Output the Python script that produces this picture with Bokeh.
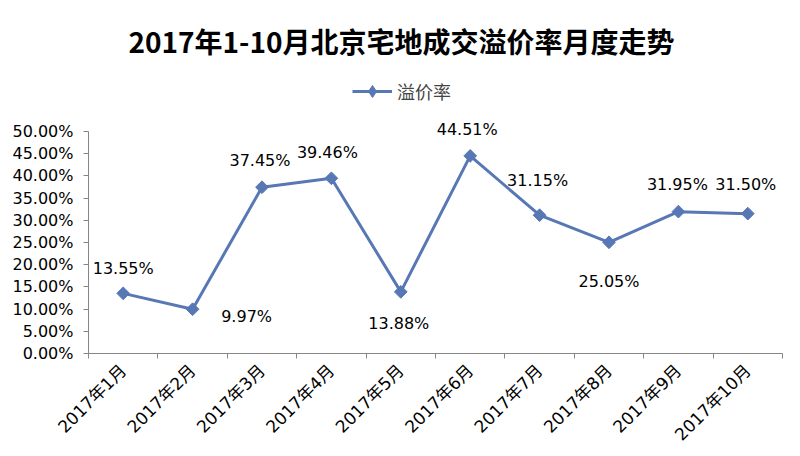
from bokeh.plotting import figure
from bokeh.models import (ColumnDataSource, Range1d, FixedTicker, Legend, LegendItem,
                          NumeralTickFormatter, Label)
from bokeh.core.properties import value
from bokeh.embed import file_html
from bokeh.resources import INLINE

months = ["2017年1月", "2017年2月", "2017年3月", "2017年4月", "2017年5月",
          "2017年6月", "2017年7月", "2017年8月", "2017年9月", "2017年10月"]
premium = [13.55, 9.97, 37.45, 39.46, 13.88, 44.51, 31.15, 25.05, 31.95, 31.50]
labels = ["13.55%", "9.97%", "37.45%", "39.46%", "13.88%",
          "44.51%", "31.15%", "25.05%", "31.95%", "31.50%"]
y_ticks = [0.0, 0.05, 0.10, 0.15, 0.20, 0.25, 0.30, 0.35, 0.40, 0.45, 0.50]
# label placement offsets (screen px) – styling only
label_dx = [0, 54, -2, -4, -2, -3, -2, 0, -1, -2]
label_dy = [-25, 7, -27, -26, 32, -26, -35, 39, -27, -29]

FONT = "'DejaVu Sans', 'Noto Sans CJK SC', sans-serif"
CJK = "'Noto Sans CJK SC', sans-serif"
BLUE = "#5877B5"
AXIS = "#868686"

# layout (screen px)
W, H = 800, 456
FRAME_L, FRAME_R = 88, 782
FRAME_T = 8
AXIS_Y0 = 353      # screen y of 0%
AXIS_Y50 = 131     # screen y of 50%
YMAX = 0.5
y_end = YMAX * (AXIS_Y0 - FRAME_T) / (AXIS_Y0 - AXIS_Y50)

xs = [i + 0.5 for i in range(len(months))]
ys = [v / 100 for v in premium]
src = ColumnDataSource(dict(x=xs, y=ys, lab=labels, dx=label_dx, dy=label_dy))

p = figure(width=W, height=H, output_backend="svg", toolbar_location=None,
           x_range=Range1d(0, len(months)), y_range=Range1d(0, y_end),
           min_border_left=FRAME_L, min_border_right=W - FRAME_R,
           min_border_top=FRAME_T, min_border_bottom=H - AXIS_Y0)
p.title.visible = False
p.outline_line_color = None
p.xgrid.visible = False
p.ygrid.visible = False
p.background_fill_color = "white"
p.border_fill_color = "white"

r_line = p.line("x", "y", source=src, line_color=BLUE, line_width=3)
r_pts = p.scatter("x", "y", source=src, marker="square", size=9, angle=0.785398,
                  fill_color=BLUE, line_color=BLUE, line_width=1)
p.text("x", "y", text="lab", source=src, x_offset="dx", y_offset="dy",
       text_align="center", text_baseline="middle", text_font=value(FONT),
       text_font_size="16px", text_color="#000000")

# legend key marker (legend glyphs ignore marker angle, so use a diamond key;
# its single NaN point is never drawn in the plot itself)
key_src = ColumnDataSource(dict(x=[float("nan")], y=[float("nan")]))
r_key = p.scatter("x", "y", source=key_src, marker="diamond", size=12,
                  fill_color=BLUE, line_color=BLUE)

# y axis
p.yaxis.ticker = FixedTicker(ticks=y_ticks)
p.yaxis.bounds = (0, YMAX)
p.yaxis.formatter = NumeralTickFormatter(format="0.00%")
p.yaxis.major_label_text_font = FONT
p.yaxis.major_label_text_font_size = "16px"
p.yaxis.major_label_text_color = "#000000"
p.yaxis.axis_line_color = AXIS
p.yaxis.major_tick_line_color = AXIS
p.yaxis.major_tick_out = 5
p.yaxis.major_tick_in = 0
p.yaxis.minor_tick_line_color = None
p.yaxis.major_label_standoff = 10

# x axis: labels at category centers, ticks at category boundaries
p.xaxis.ticker = FixedTicker(ticks=xs, minor_ticks=list(range(len(months) + 1)))
p.xaxis.major_label_overrides = {x: m for x, m in zip(xs, months)}
p.xaxis.major_label_orientation = 0.785398
p.xaxis.major_label_text_font = FONT
p.xaxis.major_label_text_font_size = "17px"
p.xaxis.major_label_text_color = "#000000"
p.xaxis.axis_line_color = AXIS
p.xaxis.major_tick_line_color = None
p.xaxis.minor_tick_line_color = AXIS
p.xaxis.minor_tick_out = 5
p.xaxis.minor_tick_in = 0
p.xaxis.major_label_standoff = 8

# legend (inside the frame, above the 50% line)
legend = Legend(items=[LegendItem(label="溢价率", renderers=[r_line, r_key], index=0)],
                location=(352 - FRAME_L, AXIS_Y0 - 106), orientation="horizontal",
                label_text_font=CJK, label_text_font_size="18px",
                label_text_baseline="middle",
                glyph_width=40, glyph_height=30, border_line_color=None,
                background_fill_alpha=0, padding=0, margin=0, spacing=0,
                label_standoff=5, label_height=30)
p.add_layout(legend, "center")

# title
x_per_px = len(months) / (FRAME_R - FRAME_L)
y_per_px = YMAX / (AXIS_Y0 - AXIS_Y50)
title = Label(x=(401 - FRAME_L) * x_per_px, y=(AXIS_Y0 - 40) * y_per_px,
              text="2017年1-10月北京宅地成交溢价率月度走势",
              text_align="center", text_baseline="middle",
              text_font=CJK, text_font_size="28px", text_font_style="bold",
              text_color="#000000")
p.add_layout(title)

open("out.html", "w").write(file_html(p, INLINE))
